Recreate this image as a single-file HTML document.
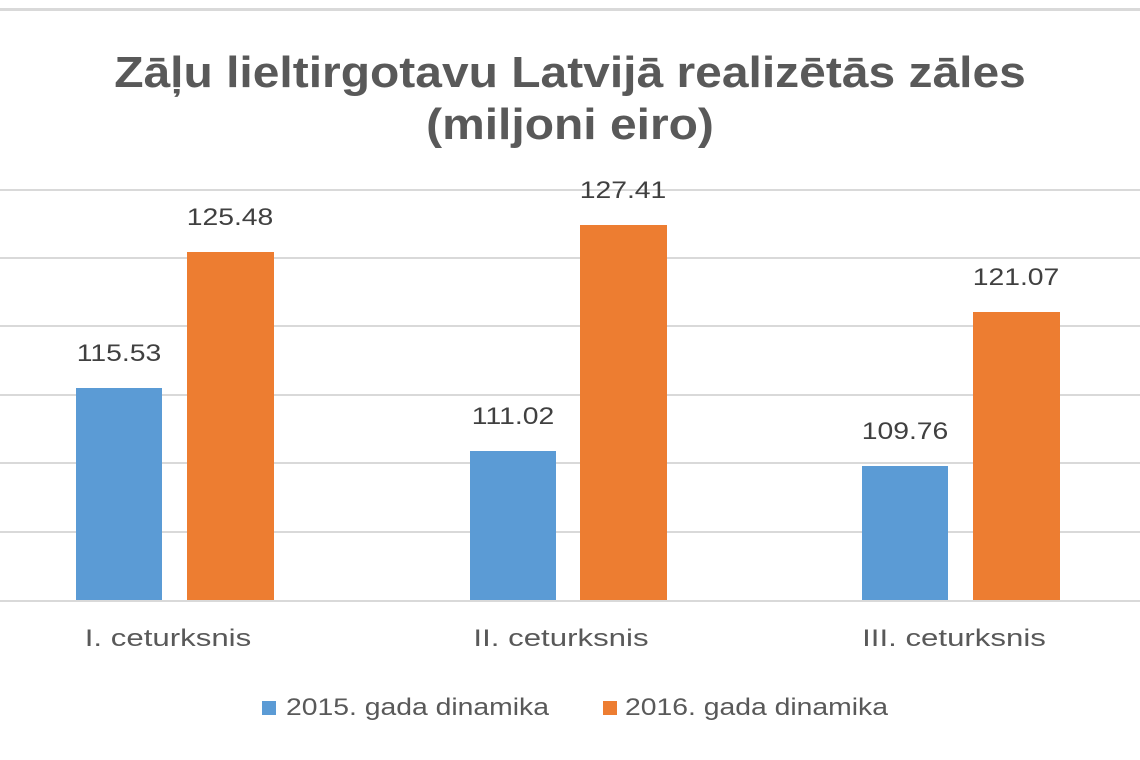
<!DOCTYPE html>
<html><head><meta charset="utf-8"><style>
body{margin:0;background:#fff;width:1140px;height:760px;overflow:hidden;position:relative;font-family:"Liberation Sans",sans-serif}
.t{position:absolute;left:0;width:1140px;text-align:center;color:#595959;font-weight:bold;font-size:44px;line-height:50px;transform:scaleX(1.09)}
.g{position:absolute;left:0;width:1140px;height:2px;background:#d9d9d9}
.b{position:absolute}
.l{position:absolute;width:120px;text-align:center;font-size:24px;color:#404040;transform:scaleX(1.18)}
.c{position:absolute;width:260px;text-align:center;font-size:24px;color:#595959;transform:scaleX(1.3)}
.lg{position:absolute;font-size:24px;color:#595959;transform:scaleX(1.18);transform-origin:left center;white-space:nowrap}
</style></head><body>
<div class="g" style="top:8px;height:3px"></div>
<div class="t" style="top:48px">Zāļu lieltirgotavu Latvijā realizētās zāles</div>
<div class="t" style="top:100px">(miljoni eiro)</div>
<div class="g" style="top:189px"></div>
<div class="g" style="top:257px"></div>
<div class="g" style="top:325px"></div>
<div class="g" style="top:394px"></div>
<div class="g" style="top:462px"></div>
<div class="g" style="top:531px"></div>
<div class="g" style="top:600px"></div>
<div class="b" style="left:76px;top:388px;width:86px;height:212px;background:#5b9bd5"></div>
<div class="b" style="left:187px;top:252px;width:87px;height:348px;background:#ed7d31"></div>
<div class="b" style="left:470px;top:451px;width:86px;height:149px;background:#5b9bd5"></div>
<div class="b" style="left:580px;top:225px;width:87px;height:375px;background:#ed7d31"></div>
<div class="b" style="left:862px;top:466px;width:86px;height:134px;background:#5b9bd5"></div>
<div class="b" style="left:973px;top:312px;width:87px;height:288px;background:#ed7d31"></div>
<div class="l" style="left:59px;top:340px">115.53</div>
<div class="l" style="left:170px;top:204px">125.48</div>
<div class="l" style="left:453px;top:403px">111.02</div>
<div class="l" style="left:563px;top:177px">127.41</div>
<div class="l" style="left:845px;top:418px">109.76</div>
<div class="l" style="left:956px;top:264px">121.07</div>
<div class="c" style="left:38px;top:625px">I. ceturksnis</div>
<div class="c" style="left:431px;top:625px">II. ceturksnis</div>
<div class="c" style="left:824px;top:625px">III. ceturksnis</div>
<div class="b" style="left:262px;top:701px;width:14px;height:14px;background:#5b9bd5"></div>
<div class="lg" style="left:286px;top:694px">2015. gada dinamika</div>
<div class="b" style="left:603px;top:701px;width:14px;height:14px;background:#ed7d31"></div>
<div class="lg" style="left:625px;top:694px">2016. gada dinamika</div>
</body></html>
